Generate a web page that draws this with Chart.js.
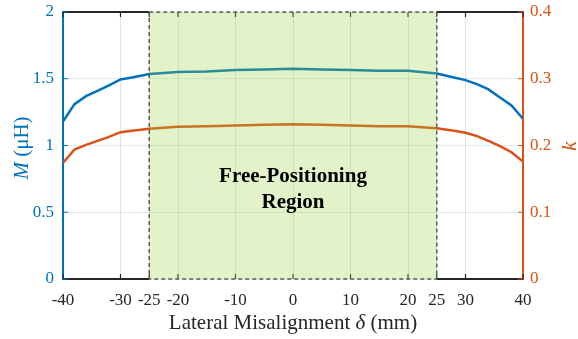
<!DOCTYPE html>
<html><head><meta charset="utf-8">
<script src="https://cdn.jsdelivr.net/npm/chart.js@4"></script>
<style>html,body{margin:0;padding:0;background:#fff}</style>
</head><body>
<canvas id="c" width="578" height="339"></canvas>
<script>
const misalignment = [-40,-38,-36,-34,-32,-30,-28,-25,-20,-15,-10,-5,0,5,10,15,20,25,28,30,32,34,36,38,40];
const mutualInductance = [1.18,1.31,1.37,1.41,1.45,1.495,1.51,1.535,1.55,1.555,1.565,1.57,1.575,1.57,1.565,1.56,1.56,1.54,1.51,1.49,1.46,1.42,1.36,1.30,1.20];
const couplingK = [0.174,0.194,0.201,0.207,0.213,0.220,0.222,0.225,0.228,0.229,0.230,0.231,0.232,0.231,0.230,0.229,0.229,0.226,0.222,0.219,0.214,0.207,0.199,0.190,0.176];
const xTickValues = [-40,-30,-25,-20,-10,0,10,20,25,30,40];
const leftTickValues = [0,0.5,1,1.5,2];
const rightTickValues = [0,0.1,0.2,0.3,0.4];
const regionBounds = [-25,25];
const regionLabel = ['Free-Positioning','Region'];

const BLUE = '#0072BD', ORANGE = '#D95319', DARK = '#262626';
const SERIF = "'Liberation Serif','Times New Roman',serif";

function drawParts(ctx, parts, cx, cy){
  let w = 0;
  parts.forEach(p => { ctx.font = p.font; w += ctx.measureText(p.t).width; });
  let xx = cx - w/2;
  ctx.textAlign = 'left'; ctx.textBaseline = 'alphabetic';
  parts.forEach(p => { ctx.font = p.font; ctx.fillText(p.t, xx, cy); xx += ctx.measureText(p.t).width; });
}

const decor = {
  id: 'decor',
  afterDatasetsDraw(chart){
    const {ctx, chartArea:a, scales:{x, y, y1}} = chart;
    const x0 = x.getPixelForValue(regionBounds[0]), x1 = x.getPixelForValue(regionBounds[1]);
    ctx.save();
    ctx.strokeStyle = DARK; ctx.lineWidth = 2;
    ctx.beginPath();
    [a.top, a.bottom].forEach(yy => { ctx.moveTo(a.left, yy); ctx.lineTo(x0, yy); ctx.moveTo(x1, yy); ctx.lineTo(a.right, yy); });
    ctx.stroke();
    ctx.lineWidth = 1.2;
    ctx.beginPath();
    xTickValues.forEach(v => { const p = x.getPixelForValue(v);
      ctx.moveTo(p, a.bottom); ctx.lineTo(p, a.bottom - 5);
      ctx.moveTo(p, a.top); ctx.lineTo(p, a.top + 5); });
    ctx.stroke();
    ctx.strokeStyle = BLUE; ctx.beginPath();
    leftTickValues.forEach(v => { const p = y.getPixelForValue(v); ctx.moveTo(a.left, p); ctx.lineTo(a.left + 5, p); });
    ctx.stroke();
    ctx.strokeStyle = ORANGE; ctx.beginPath();
    rightTickValues.forEach(v => { const p = y1.getPixelForValue(v); ctx.moveTo(a.right, p); ctx.lineTo(a.right - 5, p); });
    ctx.stroke();
    ctx.fillStyle = 'rgba(150,210,60,0.28)';
    ctx.fillRect(x0, a.top, x1 - x0, a.bottom - a.top);
    ctx.setLineDash([4,3]); ctx.strokeStyle = '#5a5a5a'; ctx.lineWidth = 1.5;
    ctx.strokeRect(x0, a.top, x1 - x0, a.bottom - a.top);
    ctx.setLineDash([]);
    ctx.fillStyle = '#000'; ctx.font = 'bold 21px ' + SERIF;
    ctx.textAlign = 'center'; ctx.textBaseline = 'alphabetic';
    const cx = x.getPixelForValue(0);
    ctx.fillText(regionLabel[0], cx, 182);
    ctx.fillText(regionLabel[1], cx, 208);
    ctx.fillStyle = DARK;
    drawParts(ctx, [{t:'Lateral Misalignment ', font:'21px '+SERIF},{t:'δ', font:'italic 21px '+SERIF},{t:' (mm)', font:'21px '+SERIF}], (a.left + a.right)/2, 329);
    ctx.save();
    ctx.translate(28, 148); ctx.rotate(-Math.PI/2);
    ctx.fillStyle = BLUE;
    drawParts(ctx, [{t:'M', font:'italic 21px '+SERIF},{t:' (μH)', font:'21px '+SERIF}], 0, 0);
    ctx.restore();
    ctx.save();
    ctx.translate(576, 146); ctx.rotate(-Math.PI/2);
    ctx.fillStyle = ORANGE;
    drawParts(ctx, [{t:'k', font:'italic 21px '+SERIF}], 0, 0);
    ctx.restore();
    ctx.restore();
  }
};

function fixVertical(width){
  return s => { s.width = width; s.paddingTop = 0; s.paddingBottom = 0; };
}

new Chart(document.getElementById('c'), {
  type: 'line',
  data: {
    datasets: [
      { label: 'M', data: misalignment.map((v,i) => ({x:v, y:mutualInductance[i]})), yAxisID: 'y',
        borderColor: BLUE, borderWidth: 2.5, pointRadius: 0, tension: 0 },
      { label: 'k', data: misalignment.map((v,i) => ({x:v, y:couplingK[i]})), yAxisID: 'y1',
        borderColor: ORANGE, borderWidth: 2.5, pointRadius: 0, tension: 0 }
    ]
  },
  options: {
    responsive: false, animation: false, devicePixelRatio: 1,
    layout: { padding: { top: 12, left: 0, right: 0, bottom: 0 } },
    plugins: { legend: { display: false }, tooltip: { enabled: false } },
    scales: {
      x: {
        type: 'linear', min: -40, max: 40,
        afterBuildTicks: s => { s.ticks = xTickValues.map(v => ({value: v})); },
        afterFit: s => { s.height = 60; s.paddingLeft = 0; s.paddingRight = 0; },
        ticks: { color: DARK, font: { family: SERIF, size: 17 }, padding: 11, maxRotation: 0, autoSkip: false,
                 callback: v => String(v) },
        grid: { color: 'rgba(0,0,0,0.11)', lineWidth: 1, drawTicks: false },
        border: { display: false }
      },
      y: {
        position: 'left', min: 0, max: 2,
        afterBuildTicks: s => { s.ticks = leftTickValues.map(v => ({value: v})); },
        afterFit: fixVertical(63),
        ticks: { color: BLUE, font: { family: SERIF, size: 17 }, padding: 9, callback: v => String(v) },
        grid: { color: 'rgba(0,114,189,0.13)', lineWidth: 1, drawTicks: false },
        border: { color: BLUE, width: 2 }
      },
      y1: {
        position: 'right', min: 0, max: 0.4,
        afterBuildTicks: s => { s.ticks = rightTickValues.map(v => ({value: v})); },
        afterFit: fixVertical(55),
        ticks: { color: ORANGE, font: { family: SERIF, size: 17 }, padding: 7, callback: v => String(v) },
        grid: { drawOnChartArea: false, drawTicks: false },
        border: { color: ORANGE, width: 2 }
      }
    }
  },
  plugins: [decor]
});
</script>
</body></html>
